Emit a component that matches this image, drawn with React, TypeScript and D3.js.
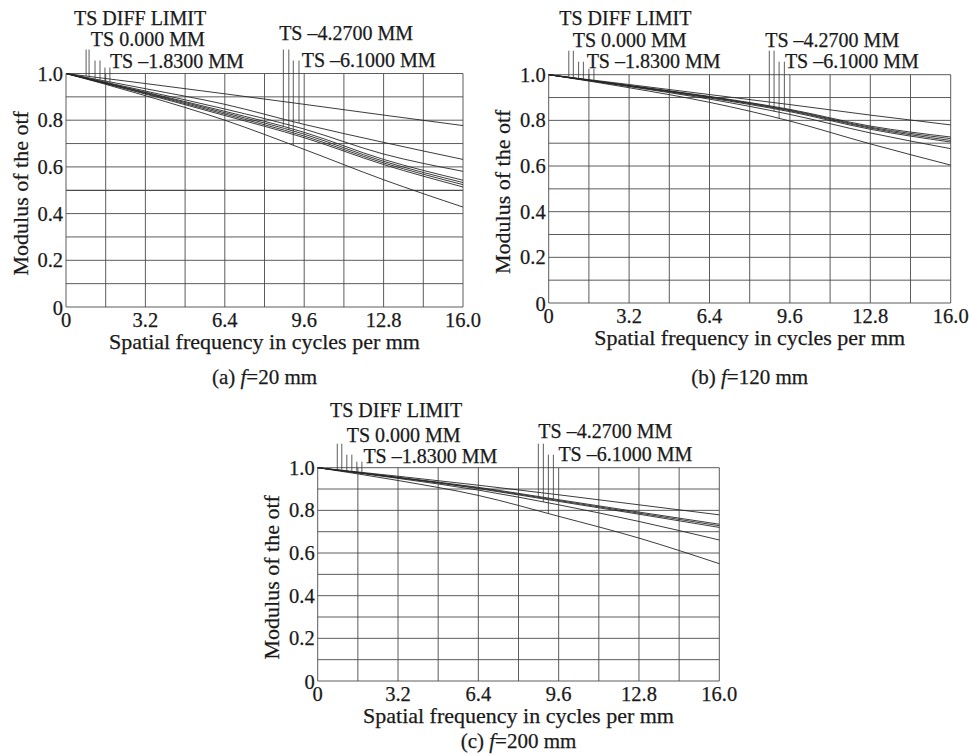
import React, { useEffect, useRef } from 'react';
import * as d3 from 'd3';

// frequency samples (cycles/mm) the curves were read at
const FREQ = [0, 3.2, 6.4, 9.6, 12.8, 16];
const X_TICKS = [0, 3.2, 6.4, 9.6, 12.8, 16.0];
const Y_TICKS = [0, 0.2, 0.4, 0.6, 0.8, 1.0];
const FIELD_LABELS = ['TS DIFF LIMIT', 'TS 0.000 MM', 'TS \u20131.8300 MM', 'TS \u20134.2700 MM', 'TS \u20136.1000 MM'];

// (a) f=20 mm
const mtfA = [
  [1, 0.957, 0.913, 0.868, 0.822, 0.777],
  [1, 0.935, 0.868, 0.782, 0.705, 0.632],
  [1, 0.925, 0.848, 0.762, 0.655, 0.581],
  [1, 0.92, 0.838, 0.748, 0.632, 0.543],
  [1, 0.918, 0.832, 0.74, 0.624, 0.533],
  [1, 0.915, 0.826, 0.732, 0.617, 0.524],
  [1, 0.912, 0.82, 0.725, 0.61, 0.514],
  [1, 0.905, 0.8, 0.675, 0.545, 0.428],
];
// (b) f=120 mm
const mtfB = [
  [1, 0.957, 0.913, 0.869, 0.823, 0.78],
  [1, 0.953, 0.905, 0.848, 0.775, 0.727],
  [1, 0.952, 0.903, 0.845, 0.77, 0.72],
  [1, 0.951, 0.901, 0.842, 0.766, 0.712],
  [1, 0.95, 0.898, 0.838, 0.761, 0.705],
  [1, 0.948, 0.893, 0.826, 0.745, 0.676],
  [1, 0.943, 0.879, 0.797, 0.697, 0.604],
];
// (c) f=200 mm
const mtfC = [
  [1, 0.96, 0.918, 0.873, 0.826, 0.779],
  [1, 0.955, 0.908, 0.85, 0.792, 0.735],
  [1, 0.954, 0.905, 0.846, 0.787, 0.728],
  [1, 0.953, 0.902, 0.842, 0.782, 0.72],
  [1, 0.95, 0.895, 0.826, 0.748, 0.661],
  [1, 0.94, 0.87, 0.772, 0.67, 0.55],
];

// leader lines: [frequency, curve index]
const leadersA = [[0.81, 0], [0.93, 0], [1.17, 5], [1.37, 6], [1.57, 2], [1.77, 4], [8.76, 3], [8.98, 4], [9.16, 7], [9.39, 1]];
const leadersB = [[0.8, 0], [0.98, 0], [1.19, 2], [1.38, 3], [1.6, 1], [1.8, 4], [8.78, 3], [8.97, 5], [9.17, 6], [9.38, 1]];
const leadersC = [[0.78, 0], [0.96, 0], [1.16, 2], [1.36, 3], [1.56, 1], [1.76, 4], [8.79, 3], [8.99, 4], [9.19, 5], [9.39, 1]];
const LEADER_TIERS = [0, 0, 1, 1, 2, 2, 0, 0, 1, 1];
const TIER_DY = [-24, -13, -6];

const PANELS = [
  { tag: '(a)', focal: '=20 mm', data: mtfA, leaders: leadersA, heavyGrid: 0.5,
    box: { left: 66, top: 73.5, right: 463, bottom: 307 }, captionY: 384,
    labelAt: [0.32, 1.0, 1.77, 8.59, 9.5], labelDy: [-48.5, -27.5, -5.8, -33.5, -6.8] },
  { tag: '(b)', focal: '=120 mm', data: mtfB, leaders: leadersB, heavyGrid: null,
    box: { left: 548.7, top: 74.7, right: 950.7, bottom: 303 }, captionY: 384,
    labelAt: [0.42, 0.955, 1.51, 8.62, 9.4], labelDy: [-49.7, -27.5, -6.5, -28, -7] },
  { tag: '(c)', focal: '=200 mm', data: mtfC, leaders: leadersC, heavyGrid: null,
    box: { left: 317.7, top: 467.7, right: 719.3, bottom: 681 }, captionY: 748,
    labelAt: [0.49, 1.155, 1.82, 8.79, 9.59], labelDy: [-51, -26, -5, -29.4, -7] },
];

const FONT = '"Liberation Serif", "DejaVu Serif", serif';
const INK = '#1a1a1a';
const GRID = '#4a4a4a';

const App = () => {
  const svgRef = useRef(null);

  useEffect(() => {
    const svg = d3.select(svgRef.current);
    svg.selectAll('*').remove();

    const txt = (sel, size) => sel
      .attr('font-family', FONT).attr('font-size', size).attr('fill', INK)
      .attr('stroke', INK).attr('stroke-width', 0.25);

    PANELS.forEach(p => {
      const { left, top, right, bottom } = p.box;
      const x = d3.scaleLinear().domain([0, 16]).range([left, right]);
      const y = d3.scaleLinear().domain([0, 1]).range([bottom, top]);
      const g = svg.append('g');

      // grid: 1.6 cycles/mm by 0.1
      g.selectAll('line.v').data(d3.range(11).map(i => i * 1.6)).join('line')
        .attr('x1', d => x(d)).attr('x2', d => x(d))
        .attr('y1', top).attr('y2', bottom)
        .attr('stroke', GRID).attr('stroke-width', 0.9);
      g.selectAll('line.h').data(d3.range(11).map(i => i / 10)).join('line')
        .attr('x1', left).attr('x2', right)
        .attr('y1', d => y(d)).attr('y2', d => y(d))
        .attr('stroke', GRID)
        .attr('stroke-width', d => (p.heavyGrid !== null && Math.abs(d - p.heavyGrid) < 1e-6 ? 1.25 : 0.9));

      // mtf curves
      const line = d3.line().x((d, i) => x(FREQ[i])).y(d => y(d)).curve(d3.curveMonotoneX);
      g.selectAll('path.mtf').data(p.data).join('path')
        .attr('fill', 'none').attr('stroke', '#262626').attr('stroke-width', 0.9)
        .attr('d', d => line(d));

      // leader lines from labels down to the curves
      p.leaders.forEach(([f, ci], i) => {
        const v = d3.scaleLinear().domain(FREQ).range(p.data[ci])(f);
        g.append('line')
          .attr('x1', x(f)).attr('x2', x(f))
          .attr('y1', top + TIER_DY[LEADER_TIERS[i]]).attr('y2', y(v))
          .attr('stroke', '#333').attr('stroke-width', 0.8);
      });

      // field labels
      FIELD_LABELS.forEach((t, i) => {
        g.append('text')
          .attr('x', x(p.labelAt[i])).attr('y', top + p.labelDy[i])
          .call(txt, 20)
          .text(t);
      });

      // tick labels
      g.selectAll('text.yt').data(Y_TICKS).join('text')
        .attr('x', left - 3).attr('y', d => y(d) + (d === 0 ? 8 : 7))
        .attr('text-anchor', 'end')
        .call(txt, 20.5)
        .text(d => (d === 0 ? '0' : d.toFixed(1)));
      g.selectAll('text.xt').data(X_TICKS).join('text')
        .attr('x', d => x(d)).attr('y', bottom + 20)
        .attr('text-anchor', 'middle')
        .call(txt, 20.5)
        .text(d => (d === 0 ? '0' : d.toFixed(1)));

      // axis titles
      g.append('text')
        .attr('x', (left + right) / 2).attr('y', bottom + 42)
        .attr('text-anchor', 'middle')
        .call(txt, 22)
        .text('Spatial frequency in cycles per mm');
      g.append('text')
        .attr('transform', `translate(${left - 46},${(top + bottom) / 2 + 3}) rotate(-90)`)
        .attr('text-anchor', 'middle').attr('dominant-baseline', 'central')
        .call(txt, 22)
        .text('Modulus of the otf');

      // caption
      const cap = g.append('text')
        .attr('x', (left + right) / 2).attr('y', p.captionY)
        .attr('text-anchor', 'middle')
        .call(txt, 21);
      cap.append('tspan').text(p.tag + ' ');
      cap.append('tspan').attr('font-style', 'italic').text('f');
      cap.append('tspan').text(p.focal);
    });

    return () => {
      svg.selectAll('*').remove();
    };
  }, []);

  return (
    <svg ref={svgRef} width={969} height={756}
      style={{ position: 'absolute', left: 0, top: 0, background: '#fff' }} />
  );
};

export default App;
